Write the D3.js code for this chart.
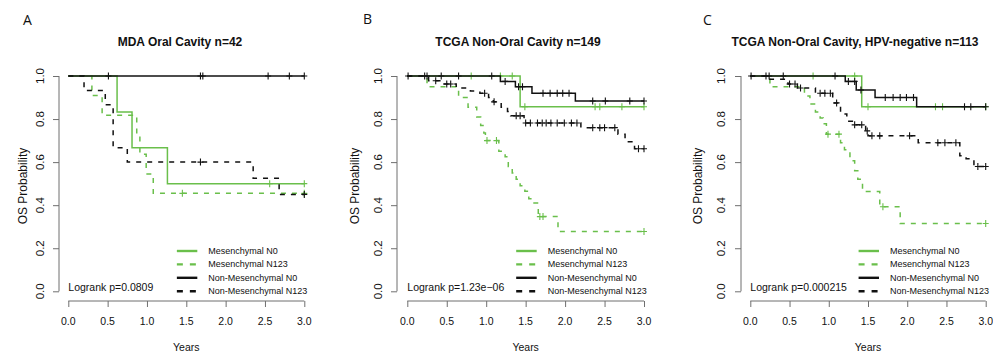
<!DOCTYPE html>
<html><head><meta charset="utf-8">
<script src="https://cdn.jsdelivr.net/npm/d3@7/dist/d3.min.js"></script>
<style>
html,body{margin:0;padding:0;background:#fff;}
svg{display:block;font-family:"Liberation Sans",Arial,Helvetica,sans-serif;}
</style></head>
<body>
<svg id="chart" width="993" height="356"></svg>
<script>
// ---------------- DATA ----------------
const xTicks = [0, 0.5, 1, 1.5, 2, 2.5, 3];
const yTicks = [0, 0.2, 0.4, 0.6, 0.8, 1];
const panelLetters = ["A", "B", "C"];
const titles = ["MDA Oral Cavity n=42", "TCGA Non-Oral Cavity n=149", "TCGA Non-Oral Cavity, HPV-negative n=113"];
const pValues = ["Logrank p=0.0809", "Logrank p=1.23e\u221206", "Logrank p=0.000215"];
const legendLabels = ["Mesenchymal N0", "Mesenchymal N123", "Non-Mesenchymal N0", "Non-Mesenchymal N123"];
const xLabel = "Years";
const yLabel = "OS Probability";

// Panel A
const A_mesN0_steps = [[0,1],[0.62,0.833],[0.81,0.667],[1.26,0.5]];
const A_mesN0_cens = [2.56, 3.0];
const A_mesN123_steps = [[0,1],[0.30,0.909],[0.43,0.818],[0.87,0.727],[0.91,0.636],[0.99,0.545],[1.08,0.455]];
const A_mesN123_cens = [1.45, 3.0];
const A_nonN0_steps = [[0,1]];
const A_nonN0_cens = [0.51, 1.68, 1.71, 2.54, 2.81, 3.0];
const A_nonN123_steps = [[0,1],[0.20,0.933],[0.47,0.867],[0.57,0.667],[0.75,0.6],[2.35,0.525],[2.68,0.45]];
const A_nonN123_cens = [1.68, 3.0];

// Panel B
const B_mesN0_steps = [[0,1],[1.43,0.857]];
const B_mesN0_cens = [0.81, 1.18, 1.33, 1.49, 2.38, 2.44, 2.72, 3.0];
const B_mesN123_steps = [[0,1],[0.25,0.95],[0.65,0.90],[0.77,0.855],[0.88,0.81],[0.93,0.77],[0.97,0.735],[0.99,0.70],[1.16,0.65],[1.24,0.625],[1.28,0.58],[1.33,0.55],[1.38,0.52],[1.43,0.49],[1.49,0.465],[1.54,0.43],[1.59,0.41],[1.66,0.347],[1.91,0.278]];
const B_mesN123_cens = [1.01, 1.13, 1.68, 1.72, 3.0];
const B_nonN0_steps = [[0,1],[1.18,0.975],[1.37,0.95],[1.58,0.92],[2.13,0.884]];
const B_nonN0_cens = [0.01, 0.22, 0.25, 0.43, 0.65, 1.07, 1.24, 1.41, 1.46, 1.72, 1.81, 1.90, 1.97, 2.05, 2.35, 2.51, 2.82, 3.0];
const B_nonN123_steps = [[0,1],[0.27,0.978],[0.45,0.963],[0.62,0.944],[0.80,0.93],[0.92,0.92],[1.03,0.90],[1.09,0.88],[1.19,0.855],[1.27,0.835],[1.31,0.815],[1.48,0.782],[2.20,0.76],[2.67,0.73],[2.76,0.695],[2.88,0.662]];
const B_nonN123_cens = [0.36, 0.50, 0.55, 0.98, 1.10, 1.38, 1.43, 1.50, 1.56, 1.65, 1.71, 1.76, 1.82, 1.90, 1.99, 2.08, 2.15, 2.35, 2.44, 2.50, 2.63, 2.93, 3.0];

// Panel C
const C_mesN0_steps = [[0,1],[1.42,0.857]];
const C_mesN0_cens = [0.80, 1.33, 1.50, 2.36, 2.45, 3.0];
const C_mesN123_steps = [[0,1],[0.25,0.95],[0.69,0.907],[0.76,0.87],[0.83,0.833],[0.89,0.805],[0.93,0.778],[0.97,0.73],[1.15,0.69],[1.20,0.657],[1.27,0.606],[1.33,0.56],[1.37,0.52],[1.43,0.463],[1.65,0.393],[1.91,0.315]];
const C_mesN123_cens = [0.99, 1.13, 1.69, 3.0];
const C_nonN0_steps = [[0,1],[1.21,0.975],[1.35,0.935],[1.59,0.90],[2.12,0.857]];
const C_nonN0_cens = [0.01, 0.20, 0.24, 0.42, 1.08, 1.25, 1.33, 1.41, 1.72, 1.82, 1.91, 1.99, 2.08, 2.73, 2.81, 3.0];
const C_nonN123_steps = [[0,1],[0.25,0.985],[0.48,0.963],[0.60,0.944],[0.83,0.92],[1.05,0.875],[1.15,0.824],[1.23,0.79],[1.32,0.773],[1.47,0.745],[1.50,0.722],[2.14,0.69],[2.67,0.63],[2.75,0.616],[2.85,0.58]];
const C_nonN123_cens = [0.50, 0.57, 0.64, 0.89, 0.95, 1.02, 1.10, 1.33, 1.42, 1.49, 1.55, 1.65, 2.03, 2.39, 2.48, 2.62, 2.90, 3.0];

// ---------------- STYLE / LAYOUT ----------------
const GREEN = "#6abf4b", BLACK = "#111111", AXIS = "#6f6f6f", TEXT = "#111111";
const DASH_PLOT = "5,6", DASH_LEG = "6,7";
const seriesStyle = [
  {color: GREEN, dash: null},
  {color: GREEN, dash: DASH_PLOT},
  {color: BLACK, dash: null},
  {color: BLACK, dash: DASH_PLOT}
];
const panelData = [
  [[A_mesN0_steps, A_mesN0_cens], [A_mesN123_steps, A_mesN123_cens], [A_nonN0_steps, A_nonN0_cens], [A_nonN123_steps, A_nonN123_cens]],
  [[B_mesN0_steps, B_mesN0_cens], [B_mesN123_steps, B_mesN123_cens], [B_nonN0_steps, B_nonN0_cens], [B_nonN123_steps, B_nonN123_cens]],
  [[C_mesN0_steps, C_mesN0_cens], [C_mesN123_steps, C_mesN123_cens], [C_nonN0_steps, C_nonN0_cens], [C_nonN123_steps, C_nonN123_cens]]
];
const layout = [
  {x0: 68.3, x1: 304.3, axisX: 59, tickLabX: 40, yLabX: 22.5, letterX: 23, letterY: 25, titleX: 180},
  {x0: 407.3, x1: 644, axisX: 397, tickLabX: 378, yLabX: 355, letterX: 363, letterY: 24, titleX: 518},
  {x0: 750.3, x1: 985.7, axisX: 741, tickLabX: 721, yLabX: 698, letterX: 703, letterY: 25, titleX: 855}
];
const Y1 = 76, Y0 = 291.3, XAXIS_Y = 301;

const svg = d3.select("#chart");

function survAt(steps, t) {
  let s = steps[0][1];
  for (const [tt, ss] of steps) { if (tt <= t + 1e-9) s = ss; }
  return s;
}

layout.forEach((L, pi) => {
  const g = svg.append("g");
  const x = d3.scaleLinear().domain([0, 3]).range([L.x0, L.x1]);
  const y = d3.scaleLinear().domain([0, 1]).range([Y0, Y1]);

  // panel letter
  g.append("text").attr("x", L.letterX).attr("y", L.letterY)
    .attr("font-family", "'Open Sans', 'DejaVu Sans', sans-serif")
    .attr("font-size", 14).attr("fill", TEXT).text(panelLetters[pi]);

  // title
  g.append("text").attr("x", L.titleX).attr("y", 46).attr("text-anchor", "middle")
    .attr("font-size", 12).attr("font-weight", "bold").attr("fill", TEXT).text(titles[pi]);

  // y axis
  const yAx = g.append("g").attr("transform", `translate(${L.axisX},0)`)
    .call(d3.axisLeft(y).tickValues(yTicks).tickSize(6).tickFormat(""));
  yAx.selectAll("path,line").attr("stroke", AXIS).attr("stroke-width", 1);
  yAx.select(".domain").attr("d", `M0,${Y0}V${Y1}`);
  yTicks.forEach(v => {
    g.append("text")
      .attr("transform", `translate(${L.tickLabX},${y(v)}) rotate(-90)`)
      .attr("text-anchor", "middle").attr("dominant-baseline", "central")
      .attr("font-size", 11.5).attr("fill", TEXT).text(d3.format(".1f")(v));
  });
  g.append("text")
    .attr("transform", `translate(${L.yLabX},186) rotate(-90)`)
    .attr("text-anchor", "middle").attr("dominant-baseline", "central")
    .attr("font-size", 12).attr("fill", TEXT).text(yLabel);

  // x axis
  const xAx = g.append("g").attr("transform", `translate(0,${XAXIS_Y})`)
    .call(d3.axisBottom(x).tickValues(xTicks).tickSize(6).tickFormat(""));
  xAx.selectAll("path,line").attr("stroke", AXIS).attr("stroke-width", 1);
  xAx.select(".domain").attr("d", `M${L.x0},0H${L.x1}`);
  xTicks.forEach(v => {
    g.append("text").attr("x", x(v)).attr("y", 321).attr("text-anchor", "middle")
      .attr("dominant-baseline", "central").attr("font-size", 10.5).attr("fill", TEXT)
      .text(d3.format(".1f")(v));
  });
  g.append("text").attr("x", (L.x0 + L.x1) / 2).attr("y", 351).attr("text-anchor", "middle")
    .attr("font-size", 10.5).attr("fill", TEXT).text(xLabel);

  // curves
  const line = d3.line().x(d => x(d[0])).y(d => y(d[1])).curve(d3.curveStepAfter);
  panelData[pi].forEach(([steps, cens], si) => {
    const st = seriesStyle[si];
    const tEnd = Math.max(steps[steps.length - 1][0], d3.max(cens));
    const pts = steps.concat([[tEnd, steps[steps.length - 1][1]]]);
    g.append("path").attr("d", line(pts)).attr("fill", "none")
      .attr("stroke", st.color).attr("stroke-width", 1.5)
      .attr("stroke-dasharray", st.dash);
    cens.forEach(t => {
      const cx = x(t), cy = y(survAt(steps, t));
      g.append("path").attr("d", `M${cx - 3},${cy}H${cx + 3}M${cx},${cy - 3.5}V${cy + 3.5}`)
        .attr("stroke", st.color).attr("stroke-width", 1.1);
    });
  });

  // logrank text
  g.append("text").attr("x", x(0)).attr("y", 290.5).attr("font-size", 10.5)
    .attr("fill", TEXT).text(pValues[pi]);

  // legend
  const lx0 = x(1.38), lx1 = x(1.64), tx = x(1.78);
  legendLabels.forEach((lab, i) => {
    const ly = 251 + i * 13.4;
    g.append("line").attr("x1", lx0).attr("x2", lx1).attr("y1", ly).attr("y2", ly)
      .attr("stroke", seriesStyle[i].color).attr("stroke-width", 2.4)
      .attr("stroke-dasharray", seriesStyle[i].dash ? DASH_LEG : null);
    g.append("text").attr("x", tx).attr("y", ly).attr("dominant-baseline", "central")
      .attr("font-size", 9).attr("fill", TEXT).text(lab);
  });
});
</script>
</body></html>
